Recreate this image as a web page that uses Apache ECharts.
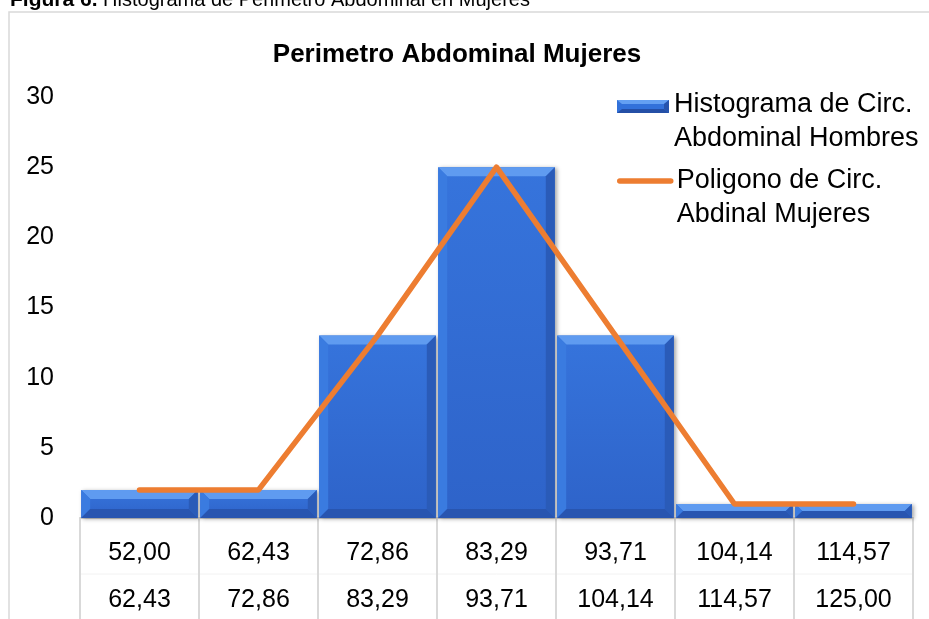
<!DOCTYPE html>
<html>
<head>
<meta charset="utf-8">
<script src="https://cdn.jsdelivr.net/npm/echarts@6/dist/echarts.min.js"></script>
<style>
  html, body { margin: 0; padding: 0; background: #fff; }
  #chart { width: 929px; height: 619px; }
</style>
</head>
<body>
<div id="chart"></div>
<script>
// Class limits (cm) of each interval
const lowerBounds = ['52,00', '62,43', '72,86', '83,29', '93,71', '104,14', '114,57'];
const upperBounds = ['62,43', '72,86', '83,29', '93,71', '104,14', '114,57', '125,00'];
// Frequencies per class
const histogramValues = [2, 2, 13, 25, 13, 1, 1];
const polygonValues = [2, 2, 13, 25, 13, 1, 1];
const yTicks = [0, 5, 10, 15, 20, 25, 30];

const histName = 'Histograma de Circ.\nAbdominal Hombres';
const polyName = 'Poligono de Circ.\nAbdinal Mujeres';

const FONT = '"Liberation Sans", Arial, sans-serif';

// Bevelled bar drawn through the axis scales
function renderBevelBar(params, api) {
  const idx = api.value(0);
  const v = api.value(1);
  const top = api.coord([idx, v]);
  const base = api.coord([idx, 0]);
  const bw = api.size([1, 0])[0] * 0.98;
  const x0 = top[0] - bw / 2, x1 = top[0] + bw / 2;
  const y0 = top[1], y1 = base[1];
  const h = y1 - y0;
  const b = Math.min(9, h / 2, bw / 2);
  return {
    type: 'group',
    children: [
      {
        type: 'rect',
        shape: { x: x0, y: y0, width: bw, height: h },
        style: {
          fill: new echarts.graphic.LinearGradient(0, 0, 0, 1, [
            { offset: 0, color: '#3674dc' },
            { offset: 1, color: '#2e63c9' }
          ]),
          shadowBlur: 4, shadowOffsetX: 2, shadowOffsetY: 1,
          shadowColor: 'rgba(0,0,0,0.35)'
        }
      },
      { type: 'polygon', shape: { points: [[x0, y0], [x1, y0], [x1 - b, y0 + b], [x0 + b, y0 + b]] },
        style: { fill: '#5f9bf0' } },
      { type: 'polygon', shape: { points: [[x0, y0], [x0 + b, y0 + b], [x0 + b, y1 - b], [x0, y1]] },
        style: { fill: '#3a7be0' } },
      { type: 'polygon', shape: { points: [[x1, y0], [x1, y1], [x1 - b, y1 - b], [x1 - b, y0 + b]] },
        style: { fill: '#2a5bb8' } },
      { type: 'polygon', shape: { points: [[x0, y1], [x1, y1], [x1 - b, y1 - b], [x0 + b, y1 - b]] },
        style: { fill: '#2855b0' } }
    ]
  };
}

const chart = echarts.init(document.getElementById('chart'), null, { renderer: 'canvas' });

// Legend entries placed beside the plot
function legendItem(y, name, icon) {
  return {
    type: 'group',
    left: 617, top: y,
    children: [
      icon,
      { type: 'text', left: 60, top: 0,
        style: { text: name, font: '27px ' + FONT, fill: '#000', lineHeight: 34 } }
    ]
  };
}

chart.setOption({
  animation: false,
  backgroundColor: '#fff',
  title: {
    text: 'Perimetro Abdominal Mujeres',
    left: 452, top: 37, textAlign: 'center',
    textStyle: { fontFamily: FONT, fontWeight: 'bold', fontSize: 26, color: '#000' }
  },
  grid: { left: 80, right: 16, top: 97, bottom: 101, outerBoundsMode: 'none', containLabel: false },
  xAxis: {
    type: 'category',
    data: lowerBounds,
    axisLine: { lineStyle: { color: '#d0d0d0', width: 2 } },
    axisTick: { show: true, length: 101, lineStyle: { color: '#d9d9d9', width: 2 } },
    axisLabel: {
      margin: 12,
      fontFamily: FONT, fontSize: 25, color: '#000', lineHeight: 47,
      formatter: (val, i) => lowerBounds[i] + '\n' + upperBounds[i]
    }
  },
  yAxis: {
    type: 'value',
    min: yTicks[0], max: yTicks[yTicks.length - 1], interval: 5,
    axisLine: { show: false }, axisTick: { show: false },
    splitLine: { show: false },
    axisLabel: { margin: 26, fontFamily: FONT, fontSize: 25, color: '#000' }
  },
  series: [
    {
      name: histName,
      type: 'custom',
      renderItem: renderBevelBar,
      encode: { x: 0, y: 1 },
      data: histogramValues.map((v, i) => [i, v]),
      z: 2
    },
    {
      name: polyName,
      type: 'line',
      data: polygonValues,
      showSymbol: false,
      lineStyle: { color: '#ed7d31', width: 5.5, cap: 'round', join: 'round' },
      z: 5
    }
  ],
  graphic: [
    // chart frame
    { type: 'rect', shape: { x: 9, y: 12, width: 940, height: 640 },
      style: { fill: 'none', stroke: '#d9d9d9', lineWidth: 1.5 }, z: -1 },
    // faint separator between the two label rows
    { type: 'line', shape: { x1: 80, y1: 574, x2: 913, y2: 574 },
      style: { stroke: '#f2f2f2', lineWidth: 1 } },
    // figure caption
    { type: 'text', left: 10, top: -10,
      style: {
        text: '{b|Figura 6.} Histograma de Perimetro Abdominal en Mujeres',
        font: '20px ' + FONT, fill: '#000',
        rich: { b: { fontWeight: 'bold', fontSize: 21, fontFamily: FONT } }
      } },
    legendItem(88, histName, {
      type: 'group', children: [
        { type: 'rect', shape: { x: 3, y: 12, width: 52, height: 13 }, style: { fill: '#3271da' } },
        { type: 'polygon', shape: { points: [[3, 12], [55, 12], [50, 16], [8, 16]] }, style: { fill: '#64a0f2' } },
        { type: 'polygon', shape: { points: [[3, 25], [55, 25], [50, 21], [8, 21]] }, style: { fill: '#244fa6' } },
        { type: 'polygon', shape: { points: [[55, 12], [55, 25], [50, 21], [50, 16]] }, style: { fill: '#2654ad' } }
      ]
    }),
    legendItem(164, polyName, {
      type: 'line', shape: { x1: 3, y1: 17, x2: 54, y2: 17 },
      style: { stroke: '#ed7d31', lineWidth: 5.5, lineCap: 'round' }
    })
  ]
});
</script>
</body>
</html>
